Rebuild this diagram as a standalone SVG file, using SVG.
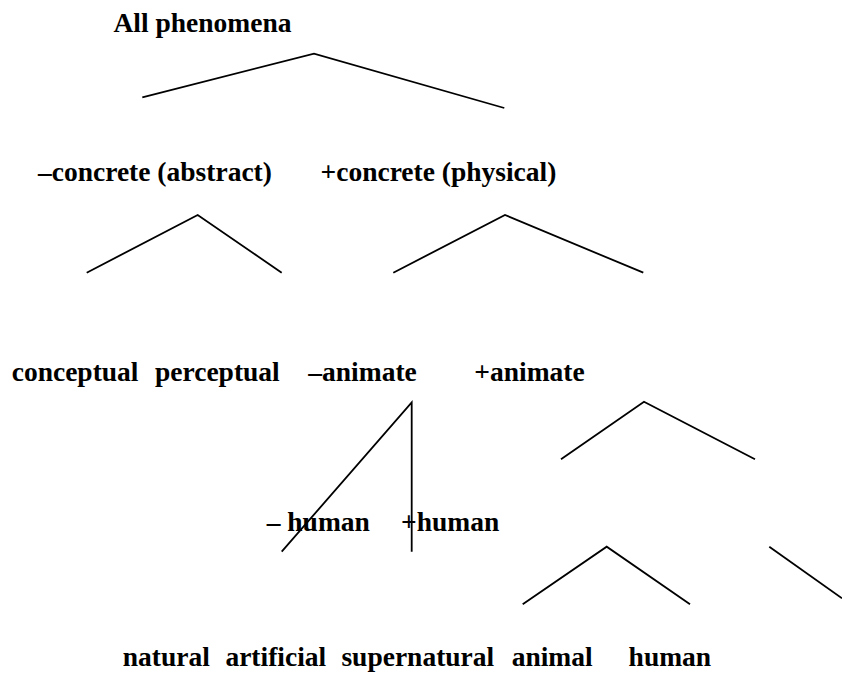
<svg xmlns="http://www.w3.org/2000/svg" width="842" height="684" viewBox="0 0 842 684">
<style>
text{font-family:"Liberation Serif","Times New Roman",serif;font-weight:bold;font-size:27.5px;fill:#000}
.c{fill:none;stroke:#000;stroke-width:1.8;stroke-linejoin:miter}
</style>
<rect width="842" height="684" fill="#fff"/>
<g id="connectors">
<polyline class="c" points="142.3,97.3 314,53.7 504.3,108"/>
<polyline class="c" points="86.7,272.7 197.7,215 281.7,272.7"/>
<polyline class="c" points="393.3,272.7 505,215 643.3,272.7"/>
<polyline class="c" points="281.7,551.7 411.7,402.3 411.7,551.7"/>
<polyline class="c" points="561,459.3 644,401.7 755,459.3"/>
<polyline class="c" points="522.7,604.3 606.7,546.7 690,604.3"/>
<line class="c" x1="769.3" y1="546.7" x2="842" y2="598.3"/>
</g>
<g id="n-all"><text x="113.5" y="32">All phenomena</text></g>
<g id="n-abstract"><text x="38" y="181">–concrete (abstract)</text></g>
<g id="n-physical"><text x="320.5" y="181">+concrete (physical)</text></g>
<g id="n-conceptual"><text x="11.7" y="381">conceptual</text></g>
<g id="n-perceptual"><text x="155" y="381">perceptual</text></g>
<g id="n-inanimate"><text x="308.3" y="381">–animate</text></g>
<g id="n-animate"><text x="474.3" y="381">+animate</text></g>
<g id="n-nonhuman"><text x="266.7" y="531">– human</text></g>
<g id="n-human1"><text x="401" y="531">+human</text></g>
<g id="n-natural"><text x="122.7" y="666">natural</text></g>
<g id="n-artificial"><text x="225.4" y="666">artificial</text></g>
<g id="n-supernatural"><text x="341.4" y="666">supernatural</text></g>
<g id="n-animal"><text x="511.7" y="666">animal</text></g>
<g id="n-human2"><text x="628.6" y="666">human</text></g>
</svg>
